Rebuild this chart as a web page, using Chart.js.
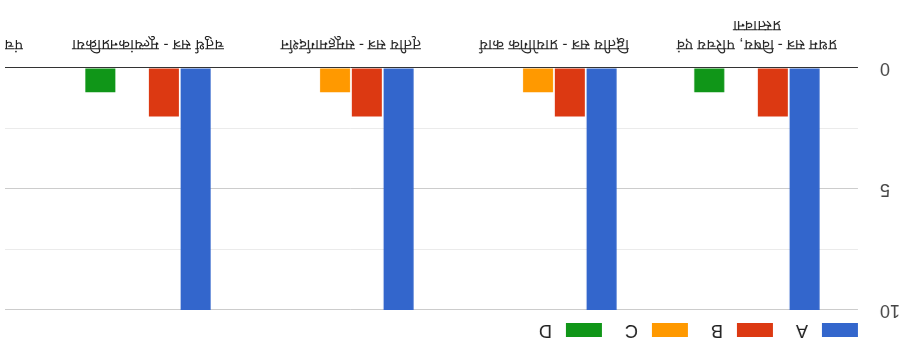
<!DOCTYPE html>
<html>
<head>
<meta charset="utf-8">
<script src="https://cdn.jsdelivr.net/npm/chart.js@4"></script>
<style>
	body { margin: 0; background: #fff; }
	#wrap { width: 905px; height: 350px; overflow: hidden; transform: rotate(180deg); }
	#clip { width: 900px; height: 350px; overflow: hidden; }
	#box { width: 1075px; height: 350px; }
</style>
</head>
<body>
<div id="wrap"><div id="clip"><div id="box"><canvas id="chart"></canvas></div></div></div>
<script>
var categories = [
	['प्रथम सत्र - विषय, परिचय एवं', 'प्रस्तावना'],
	'द्वितीय सत्र - प्रायोगिक कार्य',
	'तृतीय सत्र - समूहमार्गदर्शन',
	'चतुर्थ सत्र - मूल्यांकनप्रक्रिया',
	'पंचम सत्र - प्रमाणपत्र वितरण'
]
var seriesNames = ['A', 'B', 'C', 'D']
var valuesA = [10, 10, 10, 10, null]
var valuesB = [2, 2, 2, 2, null]
var valuesC = [0, 1, 1, 0, null]
var valuesD = [1, 0, 0, 1, null]
var yTicks = [0, 5, 10]

var colors = ['#3366cc', '#dc3912', '#ff9900', '#109618']
var font = 'Arial, "Liberation Sans", sans-serif'

function makeSet(name, data, color) {
	return {
		label: name,
		data: data,
		backgroundColor: color,
		borderWidth: 0,
		categoryPercentage: 0.626,
		barPercentage: 0.945
	}
}

// push the legend to where the reference has it
var legendSpot = {
	id: 'legendSpot',
	afterLayout: function (chart) {
		chart.legend.left = 24
		chart.legend.top = -12
	}
}

new Chart(document.getElementById('chart'), {
	type: 'bar',
	data: {
		labels: categories,
		datasets: [
			makeSet(seriesNames[0], valuesA, colors[0]),
			makeSet(seriesNames[1], valuesB, colors[1]),
			makeSet(seriesNames[2], valuesC, colors[2]),
			makeSet(seriesNames[3], valuesD, colors[3])
		]
	},
	options: {
		responsive: true,
		maintainAspectRatio: false,
		animation: false,
		layout: { padding: { left: 0, right: 13.5, top: 0, bottom: 0 } },
		plugins: {
			tooltip: { enabled: false },
			legend: {
				position: 'top',
				align: 'start',
				maxHeight: 40,
				labels: {
					boxWidth: 36,
					boxHeight: 14,
					padding: 23,
					color: '#222',
					font: { family: font, size: 18 },
					generateLabels: function (chart) {
						var items = Chart.defaults.plugins.legend.labels.generateLabels(chart)
						items.forEach(function (it) { it.text = '\u00a0' + it.text })
						return items
					}
				}
			}
		},
		scales: {
			x: {
				grid: { display: false },
				border: { display: false },
				ticks: {
					autoSkip: false,
					maxRotation: 0,
					padding: 6,
					color: '#222',
					font: { family: font, size: 15, lineHeight: 1.3 }
				},
				afterFit: function (s) { s.height = 68 }
			},
			y: {
				min: 0,
				max: 10,
				border: { display: false },
				grid: {
					drawTicks: false,
					color: function (c) {
						var v = c.tick.value
						if (v === 0) return '#333'
						return yTicks.indexOf(v) >= 0 ? '#cccccc' : '#ebebeb'
					}
				},
				ticks: {
					stepSize: 2.5,
					padding: 21.5,
					color: '#444',
					font: { family: font, size: 18 },
					callback: function (v) { return yTicks.indexOf(v) >= 0 ? v : '' }
				},
				afterFit: function (s) { s.width = 46.5 }
			}
		}
	},
	plugins: [legendSpot]
})
</script>
</body>
</html>
